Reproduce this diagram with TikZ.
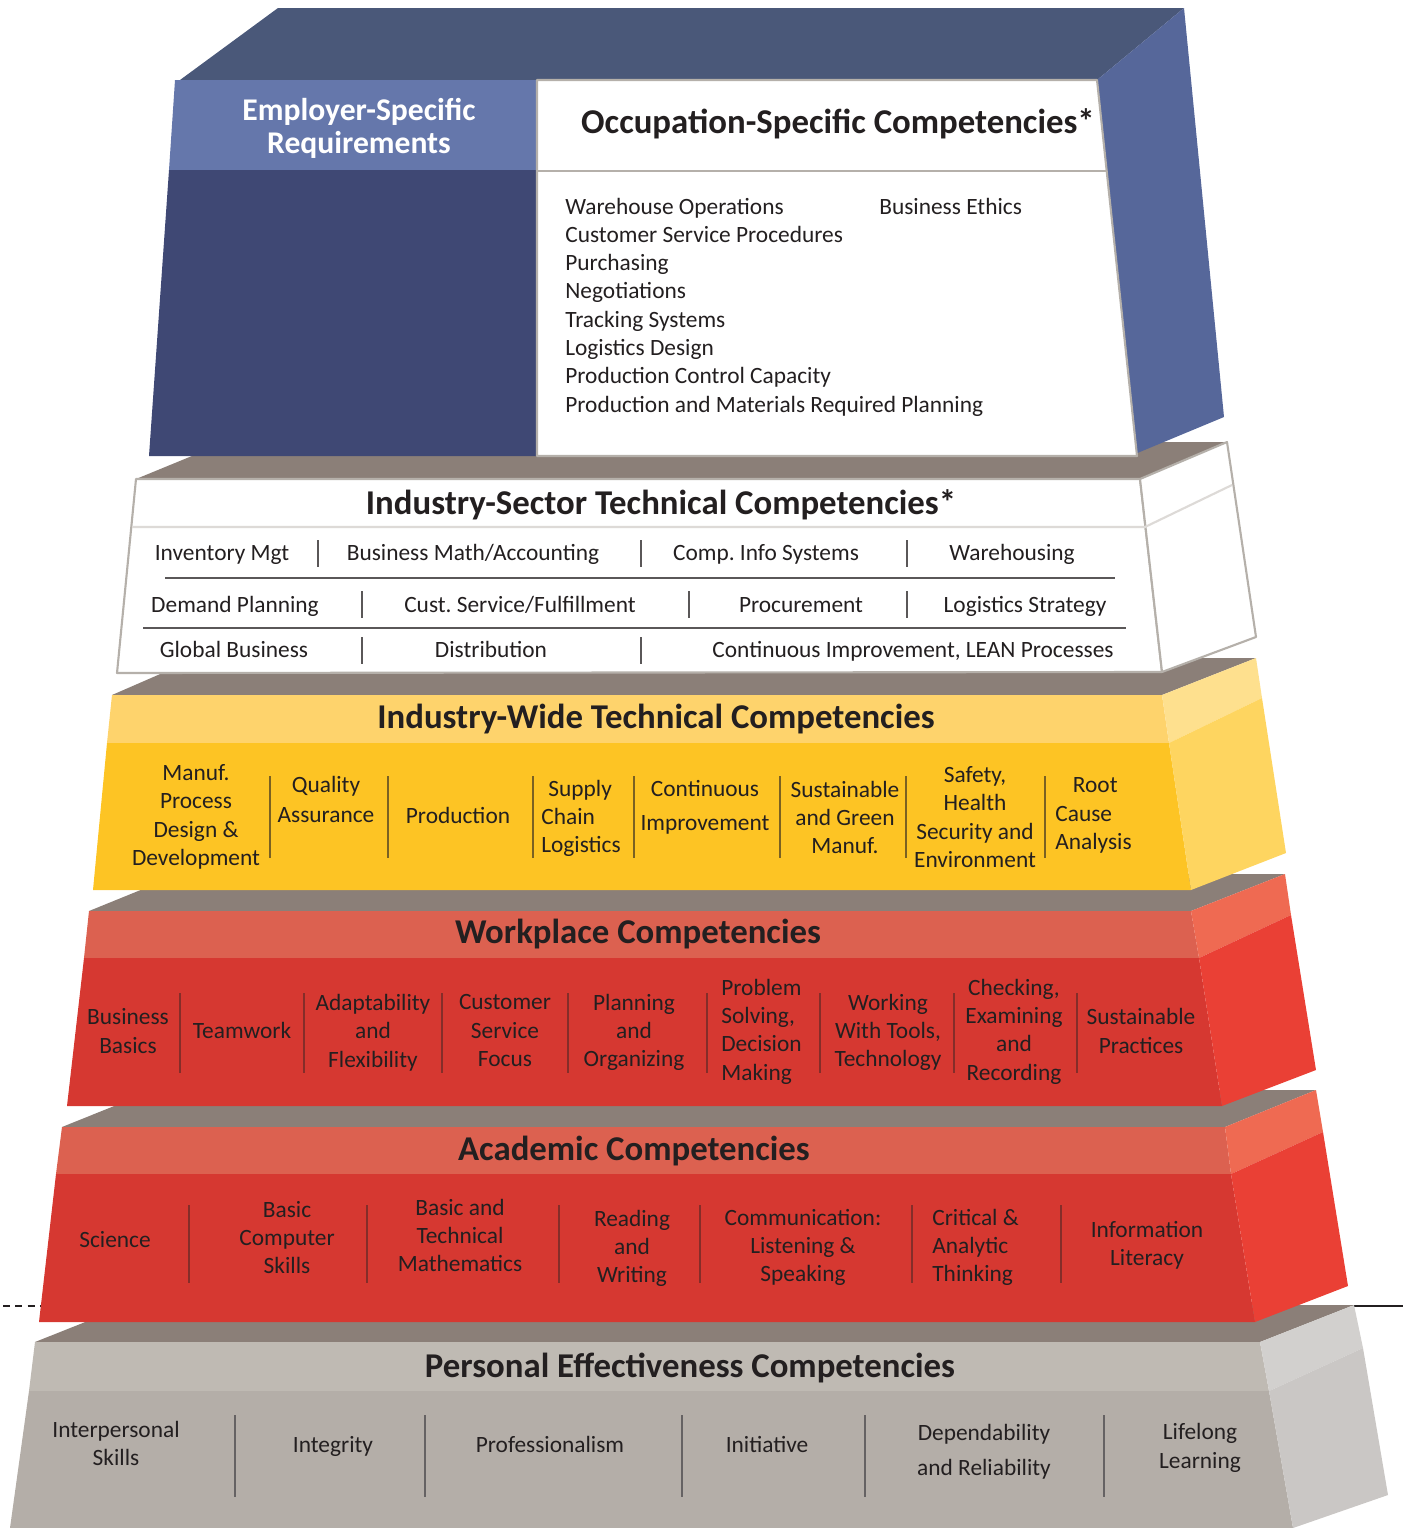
\documentclass[tikz,border=0pt]{standalone}
\usepackage{fontspec}
\setmainfont{Carlito}
\frenchspacing
\definecolor{ink}{HTML}{231F20}
\definecolor{taupe}{HTML}{8B7F78}
\definecolor{bluetop}{HTML}{4A5879}
\definecolor{blueside}{HTML}{56679A}
\definecolor{bluehead}{HTML}{6577AB}
\definecolor{bluebody}{HTML}{3F4874}
\definecolor{whiteline}{HTML}{B5B0AA}
\definecolor{paleline}{HTML}{DDDAD7}
\definecolor{yelhead}{HTML}{FED36C}
\definecolor{yelbody}{HTML}{FDC424}
\definecolor{yelsidetop}{HTML}{FEE08E}
\definecolor{yelside}{HTML}{FED560}
\definecolor{redhead}{HTML}{DC6150}
\definecolor{redbody}{HTML}{D63831}
\definecolor{redsidetop}{HTML}{EF6A52}
\definecolor{redside}{HTML}{EA4035}
\definecolor{greyhead}{HTML}{BFBAB3}
\definecolor{greybody}{HTML}{B4AEA8}
\definecolor{greysidetop}{HTML}{D2D0CE}
\definecolor{greyside}{HTML}{CAC7C5}
\begin{document}
\begin{tikzpicture}[x=0.02cm, y=-0.02cm,
	tiertitle/.style={font=\fontsize{19.8}{24}\selectfont\bfseries, text=ink, inner sep=0pt, anchor=base},
	item/.style={font=\fontsize{13.3}{16.1}\selectfont, text=ink, align=center, inner sep=0pt},
	panel/.style={fill=white, draw=whiteline, line width=1.2pt, line join=round},
	secline/.style={draw=ink!75, line width=1pt},
	yelsep/.style={draw=ink!60!yelbody, line width=0.7pt},
	redsep/.style={draw=ink!45!redbody, line width=0.7pt},
	greysep/.style={draw=ink!70, line width=0.7pt}]
	\useasboundingbox (0,0) rectangle (1403,1528);
	
	\draw[ink, line width=0.6pt, dash pattern=on 4pt off 3pt] (3,1306) -- (41,1306);
	\draw[ink, line width=0.6pt] (1352,1306) -- (1403,1306);
	
	% personal effectiveness
	\fill[taupe] (35,1342) -- (1260,1342) -- (1354,1305) -- (128,1305) -- cycle;
	\fill[greyhead] (35,1342) -- (1260,1342) -- (1269,1391) -- (29,1391) -- cycle;
	\fill[greybody] (29,1391) -- (1269,1391) -- (1293,1528) -- (10,1528) -- cycle;
	\fill[greysidetop] (1260,1342) -- (1354,1305) -- (1363,1348) -- (1269,1391) -- cycle;
	\fill[greyside] (1269,1391) -- (1363,1348) -- (1388,1495) -- (1293,1528) -- cycle;
	
	% academic
	\fill[taupe] (62,1127) -- (1225,1127) -- (1316,1090) -- (154,1090) -- cycle;
	\fill[redhead] (62,1127) -- (1225,1127) -- (1231,1174) -- (56,1174) -- cycle;
	\fill[redbody] (56,1174) -- (1231,1174) -- (1255,1322) -- (39,1322) -- cycle;
	\fill[redsidetop] (1225,1127) -- (1316,1090) -- (1323,1132) -- (1231,1174) -- cycle;
	\fill[redside] (1231,1174) -- (1323,1132) -- (1348,1286) -- (1255,1322) -- cycle;
	
	% workplace
	\fill[taupe] (89,911) -- (1191,911) -- (1285,874) -- (180,874) -- cycle;
	\fill[redhead] (89,911) -- (1191,911) -- (1199,958) -- (84,958) -- cycle;
	\fill[redbody] (84,958) -- (1199,958) -- (1222,1106) -- (67,1106) -- cycle;
	\fill[redsidetop] (1191,911) -- (1285,874) -- (1291,915) -- (1199,958) -- cycle;
	\fill[redside] (1199,958) -- (1291,915) -- (1316,1070) -- (1222,1106) -- cycle;
	
	% industry-wide
	\fill[taupe] (112,695) -- (1162,695) -- (1256,658) -- (197,658) -- cycle;
	\fill[yelhead] (112,695) -- (1162,695) -- (1169,743) -- (107,743) -- cycle;
	\fill[yelbody] (107,743) -- (1169,743) -- (1191,890) -- (93,890) -- cycle;
	\fill[yelsidetop] (1162,695) -- (1256,658) -- (1262,698) -- (1169,743) -- cycle;
	\fill[yelside] (1169,743) -- (1262,698) -- (1286,853) -- (1191,890) -- cycle;
	
	% industry-sector
	\fill[taupe] (136,479) -- (1140,479) -- (1227,442) -- (226,442) -- cycle;
	\draw[panel] (136,479) -- (1140,479) -- (1162,672) -- (117,673) -- cycle;
	\draw[panel] (1140,479) -- (1227,442) -- (1256,637) -- (1162,672) -- cycle;
	\draw[paleline, line width=1.2pt] (132,527) -- (1145,527) -- (1232,485);
	
	% top block
	\fill[bluetop] (180,80) -- (1097,80) -- (1184,8) -- (278,8) -- cycle;
	\fill[blueside] (1097,80) -- (1184,8) -- (1224,417) -- (1135,454) -- cycle;
	\fill[bluehead] (175,80) -- (537,80) -- (537,170) -- (169,170) -- cycle;
	\fill[bluebody] (169,170) -- (537,170) -- (537,456) -- (149,456) -- cycle;
	\draw[panel] (537,80) -- (1097,80) -- (1137,456) -- (537,456) -- cycle;
	\draw[whiteline, line width=1.2pt] (537,171) -- (1107,171);
	
	\node[font=\fontsize{18}{18.8}\selectfont\bfseries, text=white, align=center, inner sep=0pt] (employer) at (359,128) {Employer-Specific\\Requirements};
	\node[tiertitle] (occupation) at (838,133) {Occupation-Specific Competencies*};
	\foreach \t [count=\i] in {Warehouse Operations, Customer Service Procedures, Purchasing, Negotiations, Tracking Systems, Logistics Design, Production Control Capacity, Production and Materials Required Planning}
		\node[item, anchor=base west] (occ\i) at (565,{214+28.3*(\i-1)}) {\t};
	\node[item, anchor=base west] (ethics) at (879,214) {Business Ethics};
	
	\node[tiertitle] (sector) at (661,514) {Industry-Sector Technical Competencies*};
	\foreach \x/\y/\t [count=\i] in {222/560/{Inventory Mgt}, 473/560/{Business Math/Accounting}, 766/560/{Comp. Info Systems}, 1012/560/{Warehousing}, 235/612/{Demand Planning}, 520/612/{Cust. Service/Fulfillment}, 801/612/{Procurement}, 1025/612/{Logistics Strategy}, 234/657/{Global Business}, 491/657/{Distribution}, 913/657/{Continuous Improvement, LEAN Processes}}
		\node[item, anchor=base] (sec\i) at (\x,\y) {\t};
	\foreach \x/\y in {318/540, 641/540, 907/540, 362/591, 689/591, 907/591, 362/637, 641/637}
		\draw[secline] (\x,\y) -- ++(0,27);
	\draw[secline] (165,578) -- (1115,578);
	\draw[secline] (143,628) -- (1126,628);
	
	\node[tiertitle] (wide) at (656,728) {Industry-Wide Technical Competencies};
	\foreach \x/\y/\t [count=\i] in {196/817/{Manuf.\\Process\\Design \&\\Development}, 326/799.5/{Quality\\[1.5pt]Assurance}, 458/815/{Production}, 705/807.5/{Continuous\\[3pt]Improvement}, 845/817.5/{Sustainable\\and Green\\Manuf.}, 975/817/{Safety,\\Health\\Security and\\Environment}}
		\node[item] (wide\i) at (\x,\y) {\t};
	\node[item, align=left, anchor=west] (supply) at (541,818.5) {\hspace*{4pt}Supply\\Chain\\Logistics};
	\node[item, align=left, anchor=west] (rootcause) at (1055,815.5) {\hspace*{10pt}Root\\Cause\\Analysis};
	\foreach \x in {270,388,533,634,780,906,1045}
		\draw[yelsep] (\x,776) -- (\x,858);
	
	\node[tiertitle] (workplace) at (638,943) {Workplace Competencies};
	\foreach \x/\y/\t [count=\i] in {128/1031/{Business\\Basics}, 242/1030/{Teamwork}, 373/1032.5/{Adaptability\\and\\Flexibility}, 505/1030.5/{Customer\\Service\\Focus}, 634/1032.5/{Planning\\and\\Organizing}, 888/1032.5/{Working\\With Tools,\\Technology}, 1014/1031.5/{Checking,\\Examining\\and\\Recording}, 1141/1031/{Sustainable\\Practices}}
		\node[item] (work\i) at (\x,\y) {\t};
	\node[item, align=left, anchor=west] (problem) at (721,1031.5) {Problem\\Solving,\\Decision\\Making};
	\foreach \x in {180,304,442,568,707,820,954,1077}
		\draw[redsep] (\x,993) -- (\x,1073);
	
	\node[tiertitle] (academic) at (634,1160) {Academic Competencies};
	\foreach \x/\y/\t [count=\i] in {115/1240/{Science}, 287/1237.5/{Basic\\Computer\\Skills}, 460/1235.5/{Basic and\\Technical\\Mathematics}, 632/1248.5/{Reading\\and\\Writing}, 803/1247.5/{Communication:\\Listening \&\\Speaking}, 1147/1245/{Information\\Literacy}}
		\node[item] (acad\i) at (\x,\y) {\t};
	\node[item, align=left, anchor=west] (critical) at (932,1247.5) {Critical \&\\Analytic\\Thinking};
	\foreach \x in {189,367,559,700,912,1061}
		\draw[redsep] (\x,1205) -- (\x,1283);
	
	\node[tiertitle] (personal) at (690,1377) {Personal Effectiveness Competencies};
	\foreach \x/\y/\t [count=\i] in {116/1443.5/{Interpersonal\\Skills}, 333/1446/{Integrity}, 550/1444/{Professionalism}, 767/1444/{Initiative}, 984/1451.5/{Dependability\\[4pt]and Reliability}, 1200/1448/{Lifelong\\Learning}}
		\node[item] (pers\i) at (\x,\y) {\t};
	\foreach \x in {235,425,682,865,1104}
		\draw[greysep] (\x,1415) -- (\x,1497);
\end{tikzpicture}
\end{document}
